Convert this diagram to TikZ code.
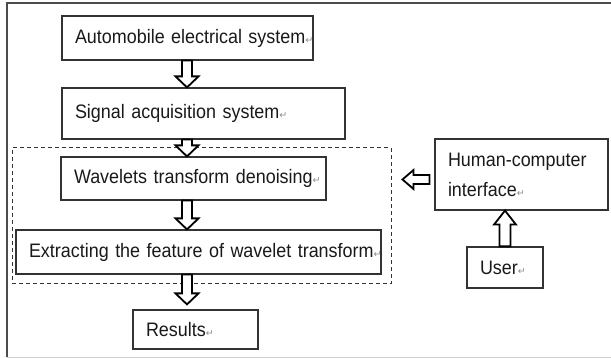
\documentclass[tikz,border=0pt]{standalone}
\usepackage{fontspec}
\setmainfont{Liberation Sans}[FakeStretch=0.92]
\newfontfamily\symfont{DejaVu Sans}
\usetikzlibrary{calc}
\newcommand\parmk{{\symfont\fontsize{9.5}{9.5}\selectfont\color{black!45}↵}}
\tikzset{
  box/.style={draw=black!80, line width=1.2pt, inner xsep=13pt, inner ysep=0pt,
    align=left, font=\fontsize{19.5}{30}\selectfont, text=black!90},
  harrow/.style={draw=black, line width=1.8pt, line join=miter, fill=white},
}
\newcommand\arrowdown[2]{\path[harrow] let \p1=(#1), \p2=(#2) in
  (\x1-5pt,\y1) -- (\x1+5pt,\y1) -- (\x1+5pt,\y2+11pt) -- (\x1+11.5pt,\y2+11pt)
  -- (\x1,\y2) -- (\x1-11.5pt,\y2+11pt) -- (\x1-5pt,\y2+11pt) -- cycle;}
\newcommand\arrowup[2]{\path[harrow] let \p1=(#1), \p2=(#2) in
  (\x1-5.5pt,\y1) -- (\x1-5.5pt,\y2-14pt) -- (\x1-11pt,\y2-14pt) -- (\x1,\y2)
  -- (\x1+11pt,\y2-14pt) -- (\x1+5.5pt,\y2-14pt) -- (\x1+5.5pt,\y1) -- cycle;}
\newcommand\arrowleft[2]{\path[harrow] let \p1=(#1), \p2=(#2) in
  (\x1,\y1+4.5pt) -- (\x2+11pt,\y1+4.5pt) -- (\x2+11pt,\y1+9.5pt) -- (\x2,\y1)
  -- (\x2+11pt,\y1-9.5pt) -- (\x2+11pt,\y1-4.5pt) -- (\x1,\y1-4.5pt) -- cycle;}
\begin{document}
\begin{tikzpicture}[x=1pt,y=-1pt]
\useasboundingbox (0,0) rectangle (611,358);
% outer frame
\draw[black!70, line width=1.3pt] (7,357) -- (7,3) -- (611,3);
\draw[black!20, line width=1pt] (7,357) -- (611,357);
% dashed group
\node[draw=black!80, dashed, line width=1pt, dash pattern=on 4pt off 3pt,
  minimum width=379pt, minimum height=136pt, inner sep=0pt] (grp) at (201.5,216) {};
% boxes
\node[box, minimum width=251pt, minimum height=44pt, text width=225pt] (b1) at (187.5,38)
  {\mbox{Automobile electrical system\parmk}};
\node[box, minimum width=283pt, minimum height=51pt, text width=257pt] (b2) at (203.5,113.5)
  {\mbox{Signal acquisition system\parmk}};
\node[box, minimum width=265pt, minimum height=43pt, text width=239pt] (b3) at (193.5,178.5)
  {\mbox{Wavelets transform denoising\parmk}};
\node[box, minimum width=365pt, minimum height=44pt, text width=339pt] (b4) at (198.5,252)
  {\mbox{Extracting the feature of wavelet transform\parmk}};
\node[box, minimum width=125pt, minimum height=39pt, text width=99pt] (res) at (195.5,329.5)
  {\mbox{Results\parmk}};
\node[box, minimum width=173pt, minimum height=71pt, text width=147pt] (hci) at (521.5,174.5)
  {\mbox{Human-computer}\\\mbox{interface\parmk}};
\node[box, minimum width=76pt, minimum height=41pt, text width=50pt] (usr) at (505,267.5)
  {\mbox{User\parmk}};
% arrow anchors
\coordinate (ax) at (187,0);
\coordinate (la) at ([xshift=-5pt,yshift=-5pt]hci.west);
\coordinate (lt) at ([xshift=11pt]grp.east |- la);
\coordinate (rt) at ([yshift=5pt]res.north -| ax);
% arrows
\arrowdown{ax |- b1.south}{ax |- b2.north}
\arrowdown{ax |- b2.south}{ax |- b3.north}
\arrowdown{ax |- b3.south}{ax |- b4.north}
\arrowdown{ax |- b4.south}{rt}
\arrowup{usr.north}{usr.north |- hci.south}
\arrowleft{la}{lt}
\end{tikzpicture}
\end{document}
